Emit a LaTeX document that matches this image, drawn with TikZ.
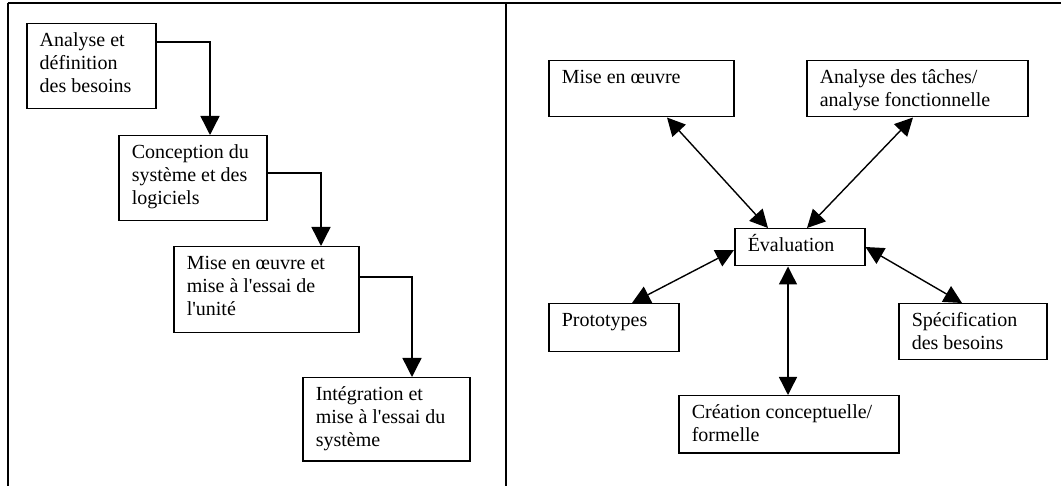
\documentclass[tikz,border=0pt]{standalone}
\usepackage{fontspec}
\setmainfont{Liberation Serif}
\usetikzlibrary{arrows.meta,calc}
\newcommand{\bxt}[3]{\parbox[t][#2pt][t]{#1pt}{\raggedright\leftskip=13pt\relax\rule{0pt}{23pt}#3}}
\newcommand{\q}{\textquotesingle}
\tikzset{
  box/.style={draw, line width=1.5pt, inner sep=0pt, anchor=north west,
    font=\fontsize{20}{23}\selectfont},
  flow/.style={line width=1.4pt, -{Triangle[length=19pt,width=19pt]}},
  both/.style={line width=1.4pt, {Triangle[length=18pt,width=18pt]}-{Triangle[length=18pt,width=18pt]}},
  frame/.style={line width=2pt}
}
\begin{document}
\begin{tikzpicture}[x=1pt,y=-1pt]
\useasboundingbox (0,0) rectangle (1061,486);
% table frame
\draw[frame] (7.5,3) -- (1061,3);
\draw[frame] (7.5,3) -- (7.5,486);
\draw[frame] (506,3) -- (506,486);
% left panel
\node[box] (a) at (26,23) {\bxt{129}{85}{Analyse et\\définition\\des besoins}};
\node[box] (b) at (118,135) {\bxt{148}{85}{Conception du\\système et des\\logiciels}};
\node[box] (c) at (173,246) {\bxt{185}{86}{Mise en œuvre et\\mise à l\q essai de\\l\q unité}};
\node[box] (d) at (302,377) {\bxt{167}{83}{Intégration et\\mise à l\q essai du\\système}};
\draw[flow] ($(a.north east)+(0,19)$) -| ($(b.north west)+(92,0)$);
\draw[flow] ($(b.north east)+(0,38)$) -| ($(c.north west)+(148,0)$);
\draw[flow] ($(c.north east)+(0,31)$) -| ($(d.north west)+(110,0)$);
% right panel
\node[box] (mise) at (548,60) {\bxt{185}{56}{Mise en œuvre}};
\node[box] (tache) at (806,60) {\bxt{221}{56}{Analyse des tâches/\\analyse fonctionnelle}};
\node[box] (eval) at (734,228) {\bxt{130}{37}{Évaluation}};
\node[box] (proto) at (548,303) {\bxt{130}{48}{Prototypes}};
\node[box] (spec) at (898,303) {\bxt{148}{56}{Spécification\\des besoins}};
\node[box] (crea) at (678,395) {\bxt{220}{57}{Création conceptuelle/\\formelle}};
\draw[both] ($(mise.south west)+(119,0)$) -- ($(eval.north west)+(34,0)$);
\draw[both] ($(tache.south west)+(107,0)$) -- ($(eval.north west)+(73,0)$);
\draw[both] ($(proto.north west)+(84,0)$) -- ($(eval.north west)+(0,22)$);
\draw[both] ($(spec.north west)+(64,0)$) -- ($(eval.north east)+(0,19)$);
\draw[both] ($(crea.north west)+(110,0)$) -- ($(eval.south west)+(54,0)$);
\end{tikzpicture}
\end{document}
